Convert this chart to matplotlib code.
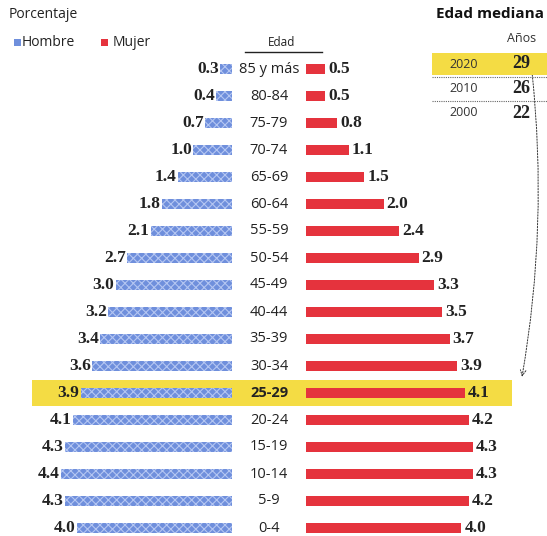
import matplotlib.pyplot as plt
import matplotlib.patches as patches

# Datos: pirámide de población (porcentaje)
edades = ['85 y más', '80-84', '75-79', '70-74', '65-69', '60-64', '55-59',
          '50-54', '45-49', '40-44', '35-39', '30-34', '25-29', '20-24',
          '15-19', '10-14', '5-9', '0-4']
hombre = [0.3, 0.4, 0.7, 1.0, 1.4, 1.8, 2.1, 2.7, 3.0, 3.2, 3.4, 3.6,
          3.9, 4.1, 4.3, 4.4, 4.3, 4.0]
mujer = [0.5, 0.5, 0.8, 1.1, 1.5, 2.0, 2.4, 2.9, 3.3, 3.5, 3.7, 3.9,
         4.1, 4.2, 4.3, 4.3, 4.2, 4.0]
destacado = '25-29'

anios = ['2020', '2010', '2000']
mediana = [29, 26, 22]

AZUL = '#6f8fdc'
AZUL_CLARO = '#b4c6f2'
ROJO = '#e5333d'
AMARILLO = '#f4dc44'
SERIF = 'Liberation Serif'
SANS = 'Open Sans'

W, H = 547, 536
fig = plt.figure(figsize=(W / 100, H / 100), dpi=100)
ax = fig.add_axes([0, 0, 1, 1])

# escala: 38.8 px por punto porcentual, centro en x=269 px
px = 38.8
cx = 269
ax.set_xlim((0 - cx) / px, (W - cx) / px)
ax.set_ylim((H - 69) / 27, -69 / 27)
ax.axis('off')

hueco = 37 / px
y = list(range(len(edades)))

# franja amarilla del grupo destacado
i_d = edades.index(destacado)
ax.add_patch(patches.Rectangle(((32 - cx) / px, i_d - 0.49), (512 - 32) / px, 0.98,
                               facecolor=AMARILLO, edgecolor='none', zorder=0))

plt.rcParams['hatch.color'] = AZUL_CLARO
plt.rcParams['hatch.linewidth'] = 0.8
ax.barh(y, [-v for v in hombre], left=-hueco, height=0.35, color=AZUL,
        hatch='xxxx', linewidth=0, zorder=2)
ax.barh(y, mujer, left=hueco, height=0.37, color=ROJO, linewidth=0, zorder=2)

for i, e in enumerate(edades):
    negrita = e == destacado
    ax.text(0, i, e, ha='center', va='center', fontsize=10.5, family=SANS,
            color='#222222', fontweight='bold' if negrita else 'normal')
    ax.text(-hueco - hombre[i] - 0.03, i, f'{hombre[i]:.1f}', ha='right', va='center',
            fontsize=12.5, family=SERIF, fontweight='bold', color='#222222')
    ax.text(hueco + mujer[i] + 0.08, i, f'{mujer[i]:.1f}', ha='left', va='center',
            fontsize=12.5, family=SERIF, fontweight='bold', color='#222222')

# encabezados
def fx(x):
    return x / W

def fy(yy):
    return 1 - yy / H

fig.text(fx(9), fy(14), 'Porcentaje', fontsize=10, family=SANS, va='center', color='#222222')
fig.patches.append(patches.Rectangle((fx(14), fy(46)), 7 / W, 7 / H, transform=fig.transFigure,
                                     facecolor=AZUL, edgecolor='none'))
fig.text(fx(22), fy(42), 'Hombre', fontsize=10, family=SANS, va='center', color='#222222')
fig.patches.append(patches.Rectangle((fx(101), fy(46)), 7 / W, 7 / H, transform=fig.transFigure,
                                     facecolor=ROJO, edgecolor='none'))
fig.text(fx(113), fy(42), 'Mujer', fontsize=10, family=SANS, va='center', color='#222222')
fig.text(fx(282), fy(42), 'Edad', fontsize=8.5, family=SANS, ha='center', va='center',
         color='#222222')
fig.add_artist(plt.Line2D([fx(245), fx(322)], [fy(52), fy(52)], color='#222222', lw=1))

# tabla de edad mediana
fig.text(fx(436), fy(14), 'Edad mediana', fontsize=11, family=SANS, fontweight='bold',
         va='center', color='#111111')
fig.text(fx(522), fy(38), 'Años', fontsize=9, family=SANS, ha='center', va='center',
         color='#333333')
fig.patches.append(patches.Rectangle((fx(432), fy(75)), (W - 432) / W, 22 / H,
                                     transform=fig.transFigure, facecolor=AMARILLO,
                                     edgecolor='none'))
for k, (a, m) in enumerate(zip(anios, mediana)):
    yy = 64 + 24.5 * k
    fig.text(fx(464), fy(yy), a, fontsize=9, family=SANS, ha='center', va='center',
             color='#333333')
    fig.text(fx(521), fy(yy), str(m), fontsize=13, family=SERIF, fontweight='bold',
             ha='center', va='center', color='#222222')
    if k > 0:
        fig.add_artist(plt.Line2D([fx(432), fx(W)], [fy(yy - 12), fy(yy - 12)],
                                  color='#666666', lw=0.8, ls=(0, (1, 1))))

# flecha punteada hacia el grupo destacado
ax.annotate('', xy=((522 - cx) / px, i_d - 0.6), xycoords='data',
            xytext=((532 - cx) / px, (72 - 69) / 27), textcoords='data',
            arrowprops=dict(arrowstyle='->', color='#333333', lw=0.7, ls=(0, (1.5, 1.5)),
                            connectionstyle='arc3,rad=-0.07', shrinkA=0, shrinkB=0))

fig.savefig('out.png', dpi=100)
